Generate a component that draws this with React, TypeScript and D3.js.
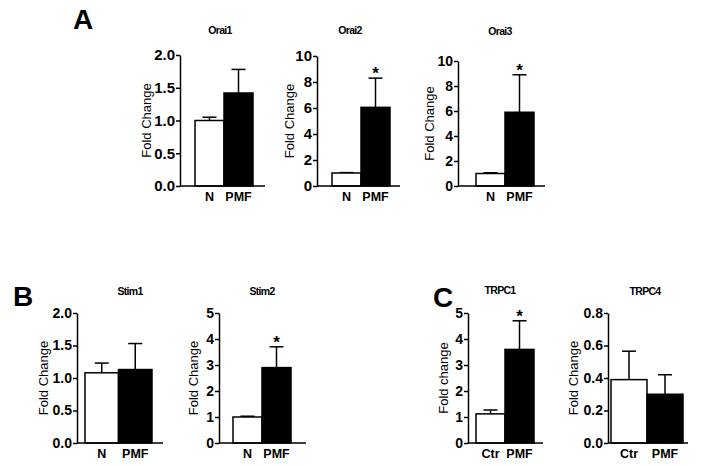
import * as d3 from "d3";
import React, { useEffect, useRef } from "react";

// group labels
const groupsN = ["N", "PMF"];
const groupsCtr = ["Ctr", "PMF"];

// mean fold change and upper SEM for each gene
const orai1Mean = [1.0, 1.42];
const orai1Err = [0.05, 0.36];
const orai2Mean = [1.0, 6.05];
const orai2Err = [0.03, 2.25];
const orai3Mean = [1.0, 5.9];
const orai3Err = [0.06, 3.0];
const stim1Mean = [1.08, 1.13];
const stim1Err = [0.15, 0.4];
const stim2Mean = [1.0, 2.9];
const stim2Err = [0.03, 0.8];
const trpc1Mean = [1.12, 3.6];
const trpc1Err = [0.15, 1.1];
const trpc4Mean = [0.39, 0.3];
const trpc4Err = [0.175, 0.12];

// significance marks
const sigNone = [false, false];
const sigPmf = [false, true];

// tick values
const ticks2 = [0, 0.5, 1.0, 1.5, 2.0];
const ticks10 = [0, 2, 4, 6, 8, 10];
const ticks5 = [0, 1, 2, 3, 4, 5];
const ticks08 = [0, 0.2, 0.4, 0.6, 0.8];

const FONT = "'Liberation Sans', Arial, Helvetica, sans-serif";

interface Chart {
  title: string;
  ylabel: string;
  groups: string[];
  mean: number[];
  err: number[];
  sig: boolean[];
  ticks: number[];
  fmt: string;
  // layout
  ax: number;
  top: number;
  bottom: number;
  bx: [number, number];
  end: number;
  titleX: number;
  titleY: number;
  labelX: number;
  tickFs: number;
}

const charts: Chart[] = [
  { title: "Orai1", ylabel: "Fold Change", groups: groupsN, mean: orai1Mean, err: orai1Err, sig: sigNone, ticks: ticks2, fmt: ".1f",
    ax: 180, top: 55, bottom: 186, bx: [195, 253], end: 265, titleX: 220, titleY: 34, labelX: 151, tickFs: 15 },
  { title: "Orai2", ylabel: "Fold Change", groups: groupsN, mean: orai2Mean, err: orai2Err, sig: sigPmf, ticks: ticks10, fmt: "d",
    ax: 317, top: 56, bottom: 186, bx: [332, 390], end: 400, titleX: 350, titleY: 34, labelX: 294, tickFs: 15 },
  { title: "Orai3", ylabel: "Fold Change", groups: groupsN, mean: orai3Mean, err: orai3Err, sig: sigPmf, ticks: ticks10, fmt: "d",
    ax: 458, top: 61, bottom: 186, bx: [476, 534], end: 545, titleX: 500, titleY: 35, labelX: 434, tickFs: 14 },
  { title: "Stim1", ylabel: "Fold Change", groups: groupsN, mean: stim1Mean, err: stim1Err, sig: sigNone, ticks: ticks2, fmt: ".1f",
    ax: 77, top: 313, bottom: 443, bx: [85, 152], end: 163, titleX: 130, titleY: 295, labelX: 48, tickFs: 14 },
  { title: "Stim2", ylabel: "Fold Change", groups: groupsN, mean: stim2Mean, err: stim2Err, sig: sigPmf, ticks: ticks5, fmt: "d",
    ax: 219, top: 313, bottom: 443, bx: [233, 291], end: 306, titleX: 262, titleY: 295, labelX: 198, tickFs: 14 },
  { title: "TRPC1", ylabel: "Fold change", groups: groupsCtr, mean: trpc1Mean, err: trpc1Err, sig: sigPmf, ticks: ticks5, fmt: "d",
    ax: 468, top: 313, bottom: 443, bx: [476, 534], end: 543, titleX: 500, titleY: 294, labelX: 448, tickFs: 14 },
  { title: "TRPC4", ylabel: "Fold Change", groups: groupsCtr, mean: trpc4Mean, err: trpc4Err, sig: sigNone, ticks: ticks08, fmt: ".1f",
    ax: 608, top: 313, bottom: 443, bx: [611, 683], end: 688, titleX: 645, titleY: 295, labelX: 578, tickFs: 14 },
];

const panelLetters = [
  { t: "A", x: 73, y: 29 },
  { t: "B", x: 13, y: 306 },
  { t: "C", x: 433, y: 307 },
];

export default function App() {
  const svgRef = useRef<SVGSVGElement>(null);
  const width = 701;
  const height = 466;

  useEffect(() => {
    if (!svgRef.current) return;
    const svg = d3.select(svgRef.current);
    svg.selectAll("*").remove();

    svg.append("rect").attr("width", width).attr("height", height).attr("fill", "white");

    panelLetters.forEach((p) => {
      svg
        .append("text")
        .attr("x", p.x)
        .attr("y", p.y)
        .attr("font-family", FONT)
        .attr("font-weight", "bold")
        .attr("font-size", 28)
        .text(p.t);
    });

    charts.forEach((c) => {
      const g = svg.append("g");
      const yMax = c.ticks[c.ticks.length - 1];
      const y = d3.scaleLinear([0, yMax], [c.bottom, c.top]);
      const x = d3.scaleBand<string>(c.groups, c.bx).padding(0);

      // title
      g.append("text")
        .attr("x", c.titleX)
        .attr("y", c.titleY)
        .attr("text-anchor", "middle")
        .attr("font-family", FONT)
        .attr("font-weight", "bold")
        .attr("font-size", 10.5)
        .attr("letter-spacing", -0.7)
        .text(c.title);

      // y label
      g.append("text")
        .attr("transform", `translate(${c.labelX},${(c.top + c.bottom) / 2}) rotate(-90)`)
        .attr("text-anchor", "middle")
        .attr("font-family", FONT)
        .attr("font-size", 13)
        .text(c.ylabel);

      // bars
      c.groups.forEach((grp, i) => {
        const bx = x(grp) ?? 0;
        const bw = x.bandwidth();
        const cx = bx + bw / 2;
        const yTop = y(c.mean[i]);
        const yErr = y(c.mean[i] + c.err[i]);
        g.append("line")
          .attr("x1", cx)
          .attr("x2", cx)
          .attr("y1", yTop)
          .attr("y2", yErr)
          .attr("stroke", "black")
          .attr("stroke-width", 1.5);
        g.append("line")
          .attr("x1", cx - 7)
          .attr("x2", cx + 7)
          .attr("y1", yErr)
          .attr("y2", yErr)
          .attr("stroke", "black")
          .attr("stroke-width", 1.5);
        g.append("rect")
          .attr("x", bx)
          .attr("y", yTop)
          .attr("width", bw)
          .attr("height", c.bottom - yTop)
          .attr("fill", i === 0 ? "white" : "black")
          .attr("stroke", "black")
          .attr("stroke-width", 1.5);
        if (c.sig[i]) {
          g.append("text")
            .attr("x", cx)
            .attr("y", yErr + 1)
            .attr("text-anchor", "middle")
            .attr("font-family", FONT)
            .attr("font-weight", "bold")
            .attr("font-size", 17)
            .text("*");
        }
        g.append("text")
          .attr("x", cx)
          .attr("y", c.bottom + 15)
          .attr("text-anchor", "middle")
          .attr("font-family", FONT)
          .attr("font-weight", "bold")
          .attr("font-size", 12.5)
          .text(grp);
      });

      // y axis
      g.append("g")
        .attr("transform", `translate(${c.ax},0)`)
        .call(
          d3
            .axisLeft<number>(y)
            .tickValues(c.ticks)
            .tickSizeInner(4)
            .tickSizeOuter(0)
            .tickPadding(1)
            .tickFormat((v) => d3.format(c.fmt)(v))
        )
        .call((a) => a.selectAll("path,line").attr("stroke-width", 1.5))
        .call((a) =>
          a
            .selectAll("text")
            .attr("font-family", FONT)
            .attr("font-weight", "bold")
            .attr("font-size", c.tickFs)
        );

      // x axis line
      g.append("line")
        .attr("x1", c.ax)
        .attr("x2", c.end)
        .attr("y1", c.bottom)
        .attr("y2", c.bottom)
        .attr("stroke", "black")
        .attr("stroke-width", 1.5);
    });

    return () => {
      d3.select(svgRef.current).selectAll("*").remove();
    };
  }, []);

  return (
    <svg
      ref={svgRef}
      width={width}
      height={height}
      style={{ position: "absolute", left: 0, top: 0 }}
    />
  );
}
